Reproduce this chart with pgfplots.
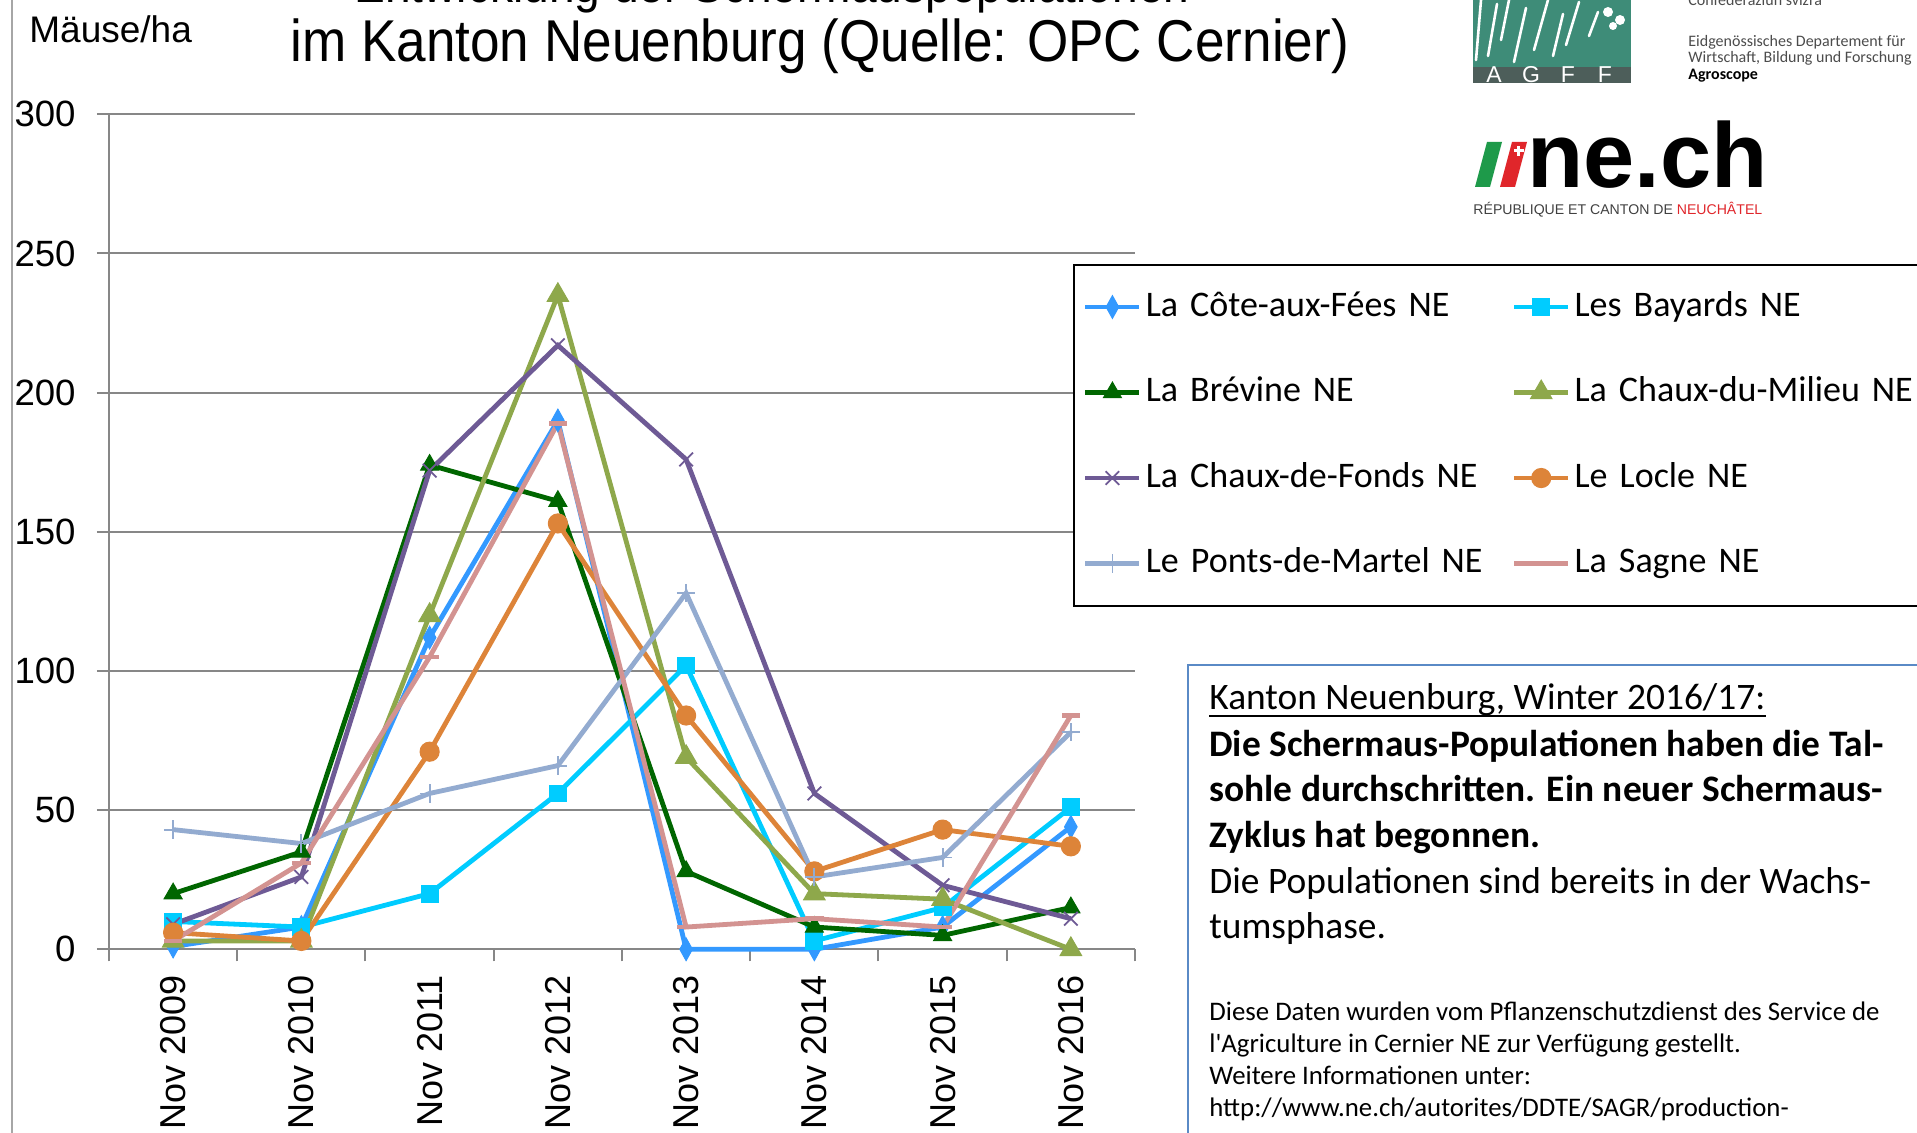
\documentclass[border=0pt]{standalone}
\usepackage{fontspec}
\setmainfont{Liberation Sans}
\newfontfamily\calibri{Carlito}
\newfontfamily\titlefont[FakeStretch=0.9]{Liberation Sans}
\usepackage{pgfplots}
\pgfplotsset{compat=1.18}
\definecolor{c1}{HTML}{3399FF}
\definecolor{c2}{HTML}{00CCFF}
\definecolor{c3}{HTML}{006600}
\definecolor{c4}{HTML}{8EA84B}
\definecolor{c5}{HTML}{6E5A95}
\definecolor{c6}{HTML}{DD8439}
\definecolor{c7}{HTML}{93ABD0}
\definecolor{c8}{HTML}{D39391}
\definecolor{gridgray}{HTML}{878787}
\definecolor{boxblue}{HTML}{5A8AC6}
\definecolor{agffgreen}{HTML}{3E8C78}
\definecolor{agffdark}{HTML}{4D5E5A}
\definecolor{nered}{HTML}{E0262B}
\definecolor{negreen}{HTML}{1E9A4A}
\begin{document}
\begin{tikzpicture}
\useasboundingbox (0,0) rectangle (958.5pt,-566.5pt);
\clip (0,0) rectangle (958.5pt,-566.5pt);
\fill[white] (0,0) rectangle (958.5pt,-566.5pt);
\begin{scope}[x=0.5pt,y=-0.5pt]
  % left slide border
  \draw[gray!70, line width=1pt] (11.7,0) -- (11.7,1133);
  % title
  \node[anchor=base, inner sep=0pt, font=\titlefont\fontsize{25.6}{28}\selectfont] at (772,3) {Entwicklung der Schermauspopulationen};
  \node[anchor=base west, inner sep=0pt, font=\titlefont\fontsize{29.5}{32}\selectfont] at (290,62) {im Kanton Neuenburg (Quelle: OPC Cernier)};
  \node[anchor=base west, inner sep=0pt, font=\fontsize{18.5}{20}\selectfont] at (29,42.5) {Mäuse/ha};
  % AGFF logo
  \fill[agffgreen] (1473,0) rectangle (1631,67);
  \fill[agffdark] (1473,67) rectangle (1631,83);
  \begin{scope}[white, line width=1.3pt, line cap=round]
    \draw (1481,0) -- (1476,60);
    \draw (1497,4) -- (1488,56);
    \draw (1509,0) -- (1501,40);
    \draw (1526,8) -- (1514,62);
    \draw (1548,0) -- (1534,50);
    \draw (1563,14) -- (1553,56);
    \draw (1579,2) -- (1566,45);
    \draw (1598,12) -- (1589,36);
    \fill (1608,12) circle (5);
    \fill (1620,20) circle (5);
    \fill (1613,26) circle (4);
  \end{scope}
  \foreach \xx/\ll in {1494/A,1531/G,1568/F,1605/F}
    \node[anchor=base, inner sep=0pt, white, font=\fontsize{11.5}{12}\selectfont] at (\xx,83) {\ll};
  \begin{scope}[text=black!70]
    \node[anchor=base west, inner sep=0pt, font=\calibri\fontsize{8}{9}\selectfont] at (1688,6) {Confederaziun svizra};
    \node[anchor=base west, inner sep=0pt, font=\calibri\fontsize{8}{9}\selectfont] at (1688,47) {Eidgenössisches Departement für};
    \node[anchor=base west, inner sep=0pt, font=\calibri\fontsize{8}{9}\selectfont] at (1688,63) {Wirtschaft, Bildung und Forschung};
    \node[anchor=base west, inner sep=0pt, text=black, font=\calibri\bfseries\fontsize{8}{9}\selectfont] at (1688,80) {Agroscope};
  \end{scope}
  % ne.ch logo
  \fill[negreen] (1475,187) -- (1490,187) -- (1502,142) -- (1487,142) -- cycle;
  \fill[nered] (1500,187) -- (1515,187) -- (1527,142) -- (1512,142) -- cycle;
  \fill[white] (1517,146) rectangle (1520,156);
  \fill[white] (1513.5,149.5) rectangle (1523.5,152.5);
  \node[anchor=base west, inner sep=0pt, font=\bfseries\fontsize{46}{48}\selectfont] at (1527,188) {ne.ch};
  \node[anchor=base west, inner sep=0pt, font=\fontsize{7.05}{8}\selectfont, text=black!75] at (1473,215) {RÉPUBLIQUE ET CANTON DE \textcolor{nered}{NEUCHÂTEL}};
  % text box
  \draw[boxblue, line width=1pt] (1188,1150) -- (1188,665) -- (1930,665);
  \node[anchor=base west, inner sep=0pt, font=\calibri\fontsize{18.7}{20}\selectfont] (k) at (1209,710) {Kanton Neuenburg, Winter 2016/17:};
  \draw[line width=1pt] ([yshift=-2.8pt]k.base west) -- ([yshift=-2.8pt]k.base east);
  \node[anchor=base west, inner sep=0pt, font=\calibri\bfseries\fontsize{18.7}{20}\selectfont] at (1209,756) {Die Schermaus-Populationen haben die Tal-};
  \node[anchor=base west, inner sep=0pt, font=\calibri\bfseries\fontsize{18.7}{20}\selectfont] at (1209,801) {sohle durchschritten. Ein neuer Schermaus-};
  \node[anchor=base west, inner sep=0pt, font=\calibri\bfseries\fontsize{18.7}{20}\selectfont] at (1209,847) {Zyklus hat begonnen.};
  \node[anchor=base west, inner sep=0pt, font=\calibri\fontsize{18.7}{20}\selectfont] at (1209,893) {Die Populationen sind bereits in der Wachs-};
  \node[anchor=base west, inner sep=0pt, font=\calibri\fontsize{18.7}{20}\selectfont] at (1209,938) {tumsphase.};
  \node[anchor=base west, inner sep=0pt, font=\calibri\fontsize{13.4}{15}\selectfont] at (1209,1020) {Diese Daten wurden vom Pflanzenschutzdienst des Service de};
  \node[anchor=base west, inner sep=0pt, font=\calibri\fontsize{13.4}{15}\selectfont] at (1209,1052) {l'Agriculture in Cernier NE zur Verfügung gestellt.};
  \node[anchor=base west, inner sep=0pt, font=\calibri\fontsize{13.4}{15}\selectfont] at (1209,1084) {Weitere Informationen unter:};
  \node[anchor=base west, inner sep=0pt, font=\calibri\fontsize{13.4}{15}\selectfont] at (1209,1116) {http://www.ne.ch/autorites/DDTE/SAGR/production-};
\end{scope}
\begin{axis}[
  scale only axis,
  width=513pt, height=417.5pt,
  anchor=south west, at={(54.5pt,-474.65pt)},
  xmin=-0.5, xmax=7.5, ymin=0, ymax=300,
  axis lines=left,
  axis line style={-, draw=gridgray, line width=1pt},
  ymajorgrids, grid style={gridgray, line width=1pt},
  ytick={0,50,100,150,200,250,300},
  yticklabels={0,50,100,150,200,250,300},
  xtick={0,1,2,3,4,5,6,7},
  xticklabels={Nov 2009,Nov 2010,Nov 2011,Nov 2012,Nov 2013,Nov 2014,Nov 2015,Nov 2016},
  minor xtick={-0.5,0.5,1.5,2.5,3.5,4.5,5.5,6.5,7.5},
  tick align=outside,
  major tick length=6pt, minor tick length=6pt,
  tick style={gridgray, line width=1pt},
  major x tick style={draw=none},
  x tick label style={rotate=90, anchor=east, inner sep=0pt, font=\fontsize{18}{20}\selectfont},
  xticklabel shift=6.8pt,
  y tick label style={anchor=east, inner sep=0pt, font=\fontsize{18.3}{20}\selectfont},
  yticklabel shift=10.5pt,
  clip=false,
  every axis plot/.append style={line width=2.4pt},
  legend columns=2,
  legend cell align=left,
  legend image code/.code={\draw[mark repeat=2,mark phase=2,#1] plot coordinates {(0pt,0pt) (13.5pt,0pt) (27pt,0pt)};},
  legend style={at={(0.9396,0.8207)}, anchor=north west, draw=black, line width=1pt, fill=white,
    inner xsep=4.5pt, inner ysep=12.5pt, row sep=25.75pt, column sep=2pt,
    font=\calibri\fontsize{18}{22}\selectfont,
    nodes={inner sep=0pt, text height=13pt, text depth=4pt, text width=181pt, align=left}},
]
\addplot[c1, mark=diamond*, mark size=4.2pt, mark options={solid, fill=c1, draw=c1, line width=0.5pt, yscale=1.35}]
  coordinates {(0,1) (1,8) (2,112) (3,190) (4,0) (5,0) (6,8) (7,44)};
\addlegendentry{La Côte-aux-Fées NE}
\addplot[c2, mark=square*, mark size=4.2pt, mark options={solid, fill=c2, draw=c2, line width=0.5pt}]
  coordinates {(0,10) (1,8) (2,20) (3,56) (4,102) (5,3) (6,15) (7,51)};
\addlegendentry{Les Bayards NE}
\addplot[c3, mark=triangle*, mark size=5.2pt, mark options={solid, fill=c3, draw=c3, line width=0.5pt}]
  coordinates {(0,20) (1,35) (2,174) (3,161) (4,28) (5,8) (6,5) (7,15)};
\addlegendentry{La Brévine NE}
\addplot[c4, mark=triangle*, mark size=6.2pt, mark options={solid, fill=c4, draw=c4, line width=0.5pt}]
  coordinates {(0,3) (1,3) (2,120) (3,235) (4,69) (5,20) (6,18) (7,0)};
\addlegendentry{La Chaux-du-Milieu NE}
\addplot[c5, mark=x, mark size=4.8pt, mark options={solid, draw=c5, line width=0.9pt}]
  coordinates {(0,9) (1,26) (2,172) (3,217) (4,176) (5,56) (6,23) (7,11)};
\addlegendentry{La Chaux-de-Fonds NE}
\addplot[c6, mark=*, mark size=4.8pt, mark options={solid, fill=c6, draw=c6, line width=0.5pt}]
  coordinates {(0,6) (1,3) (2,71) (3,153) (4,84) (5,28) (6,43) (7,37)};
\addlegendentry{Le Locle NE}
\addplot[c7, mark=+, mark size=4.6pt, mark options={solid, draw=c7, line width=0.9pt}]
  coordinates {(0,43) (1,38) (2,56) (3,66) (4,128) (5,26) (6,33) (7,78)};
\addlegendentry{Le Ponts-de-Martel NE}
\addplot[c8, mark=-, mark size=4.6pt, mark options={solid, draw=c8, line width=2.4pt}]
  coordinates {(0,3) (1,31) (2,105) (3,189) (4,8) (5,11) (6,8) (7,84)};
\addlegendentry{La Sagne NE}
\end{axis}
\end{tikzpicture}
\end{document}
